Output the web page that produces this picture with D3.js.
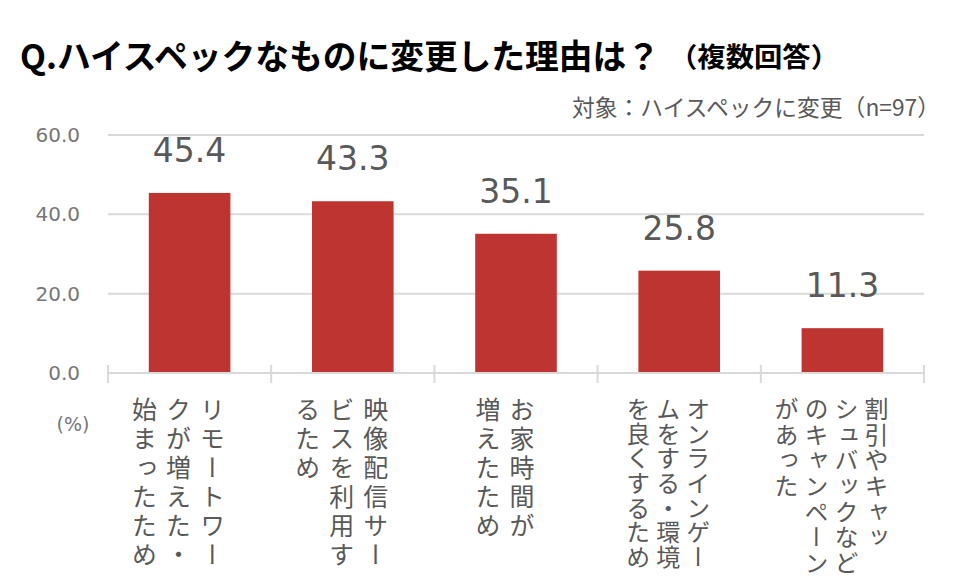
<!DOCTYPE html>
<html><head><meta charset="utf-8">
<script src="https://cdn.jsdelivr.net/npm/d3@7"></script>
<style>
html,body{margin:0;padding:0;background:#fff;}
svg{display:block;}
</style></head>
<body>
<svg id="chart" width="971" height="582"></svg>
<script>
const title = "Q.ハイスペックなものに変更した理由は？";
const titleNote = "（複数回答）";
const subtitle = "対象：ハイスペックに変更（n=97）";
const unitLabel = "(%)";
const categories = ["リモートワーク", "映像配信サービス", "お家時間", "オンラインゲーム", "割引やキャッシュバック"];
const categoryLines = [
  ["リモートワー", "クが増えた・", "始まったため"],
  ["映像配信サー", "ビスを利用す", "るため"],
  ["お家時間が", "増えたため"],
  ["オンラインゲー", "ムをする・環境", "を良くするため"],
  ["割引やキャッ", "シュバックなど", "のキャンペーン", "があった"]
];
const values = [45.4, 43.3, 35.1, 25.8, 11.3];
const yTicks = [0, 20, 40, 60];

const svg = d3.select("#chart");
const cjk = "'Noto Sans CJK JP', 'Noto Sans', sans-serif";
const latin = "'DejaVu Sans', Verdana, sans-serif";

const x = d3.scaleBand().domain(categories).range([108, 924]).paddingInner(0.5).paddingOuter(0.25);
const y = d3.scaleLinear().domain([0, 60]).range([373, 135]);

// title
svg.append("text").attr("x", 20).attr("y", 69)
  .attr("font-family", cjk).attr("font-weight", 700).attr("font-size", 34)
  .attr("fill", "#000").attr("textLength", 640).attr("lengthAdjust", "spacingAndGlyphs")
  .text(title);
svg.append("text").attr("x", 669).attr("y", 67)
  .attr("font-family", cjk).attr("font-weight", 700).attr("font-size", 27)
  .attr("fill", "#000").attr("textLength", 170).attr("lengthAdjust", "spacingAndGlyphs")
  .text(titleNote);
svg.append("text").attr("x", 572).attr("y", 116)
  .attr("font-family", cjk).attr("font-size", 23).attr("fill", "#595959")
  .attr("textLength", 368).attr("lengthAdjust", "spacingAndGlyphs")
  .text(subtitle);

// gridlines
svg.append("g").selectAll("line").data(yTicks.filter(d => d > 0)).join("line")
  .attr("x1", 108).attr("x2", 924)
  .attr("y1", d => y(d)).attr("y2", d => y(d))
  .attr("stroke", "#d9d9d9").attr("stroke-width", 2);

// y axis labels
const yAxis = d3.axisLeft(y).tickValues(yTicks).tickFormat(d3.format(".1f")).tickSize(0).tickPadding(0);
const ya = svg.append("g").attr("transform", "translate(80,0)").call(yAxis);
ya.select(".domain").remove();
ya.selectAll("text").attr("font-family", latin).attr("font-size", 20).attr("fill", "#767676");

// bars
svg.append("g").selectAll("rect").data(values).join("rect")
  .attr("x", (d, i) => x(categories[i]))
  .attr("width", x.bandwidth())
  .attr("y", d => y(d))
  .attr("height", d => y(0) - y(d))
  .attr("fill", "#be3431");

// x axis line and ticks
svg.append("line").attr("x1", 108).attr("x2", 924).attr("y1", y(0)).attr("y2", y(0))
  .attr("stroke", "#d9d9d9").attr("stroke-width", 2);
const bounds = categories.map(c => x(c) - x.step() * 0.25).concat([x(categories[categories.length - 1]) + x.bandwidth() + x.step() * 0.25]);
svg.append("g").selectAll("line").data(bounds).join("line")
  .attr("x1", d => d).attr("x2", d => d).attr("y1", y(0) - 8).attr("y2", y(0) + 10)
  .attr("stroke", "#d9d9d9").attr("stroke-width", 2);

// value labels
svg.append("g").selectAll("text").data(values).join("text")
  .attr("x", (d, i) => x(categories[i]) + x.bandwidth() / 2)
  .attr("y", d => y(d) - 31)
  .attr("text-anchor", "middle")
  .attr("font-family", latin).attr("font-size", 33).attr("fill", "#595959")
  .text(d => d.toFixed(1));

// unit
svg.append("text").attr("x", 73).attr("y", 431).attr("text-anchor", "middle")
  .attr("font-family", latin).attr("font-size", 19).attr("fill", "#767676")
  .text(unitLabel);

// vertical category labels
const labelStyle = [
  {fs: 25, ls: 4, pitch: 34},
  {fs: 25, ls: 4, pitch: 34},
  {fs: 25, ls: 4, pitch: 34},
  {fs: 24, ls: 0.6, pitch: 30},
  {fs: 24, ls: 1.6, pitch: 30}
];
categoryLines.forEach((lines, i) => {
  const st = labelStyle[i];
  const cx = x(categories[i]) + x.bandwidth() / 2 - 11;
  const n = lines.length;
  lines.forEach((ln, j) => {
    const colX = cx + ((n - 1) / 2 - j) * st.pitch;
    svg.append("text")
      .attr("x", colX).attr("y", 397)
      .attr("style", "writing-mode: vertical-rl; letter-spacing:" + st.ls + "px")
      .attr("font-family", cjk).attr("font-size", st.fs).attr("fill", "#595959")
      .text(ln);
  });
});
</script>
</body></html>
